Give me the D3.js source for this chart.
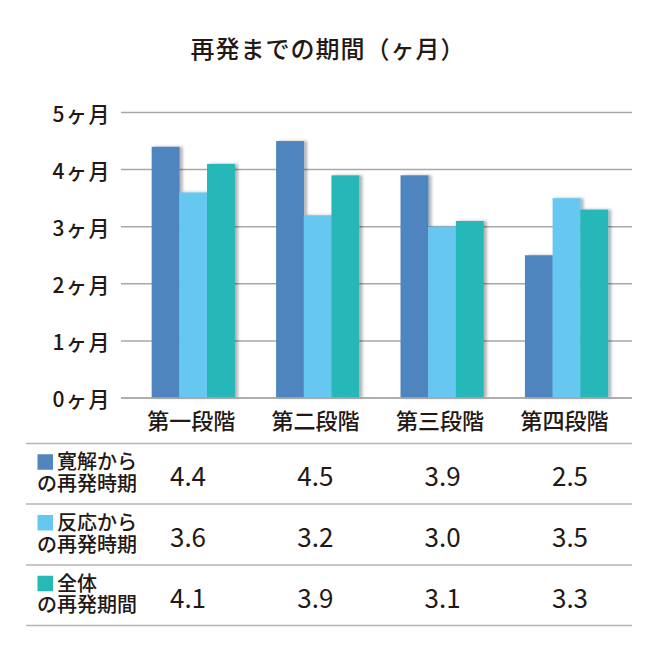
<!DOCTYPE html>
<html><head><meta charset="utf-8">
<script src="https://cdn.jsdelivr.net/npm/d3@7"></script>
<style>
html,body{margin:0;padding:0;background:#fff;}
svg{display:block;}
text{font-family:"Noto Sans CJK JP","Noto Sans",sans-serif;fill:#231815;}
</style></head>
<body><svg id="c" width="660" height="660"></svg>
<script>
const title = "再発までの期間（ヶ月）";
const categories = ["第一段階","第二段階","第三段階","第四段階"];
const seriesNames = [["寛解から","の再発時期"],["反応から","の再発時期"],["全体","の再発期間"]];
const seriesColors = ["#5085be","#66c8f0","#27b8b8"];
const remissionValues = [4.4, 4.5, 3.9, 2.5];
const responseValues = [3.6, 3.2, 3.0, 3.5];
const overallValues = [4.1, 3.9, 3.1, 3.3];
const yTicks = [0,1,2,3,4,5];
const yTickLabels = ["0ヶ月","1ヶ月","2ヶ月","3ヶ月","4ヶ月","5ヶ月"];
const series = [remissionValues, responseValues, overallValues];

const svg = d3.select("#c");
const defs = svg.append("defs");
const f = defs.append("filter").attr("id","sh").attr("x","-20%").attr("y","-20%").attr("width","150%").attr("height","140%");
f.append("feDropShadow").attr("dx",3).attr("dy",0).attr("stdDeviation",1.6).attr("flood-color","#000").attr("flood-opacity",0.3);

svg.append("text").attr("x",328).attr("y",47).attr("text-anchor","middle").attr("dominant-baseline","central")
  .attr("font-size",24).style("font-weight",500).attr("letter-spacing",1).text(title);

const y = d3.scaleLinear().domain([0,5]).range([398,112.5]);
const x = d3.scaleBand().domain(categories).range([121,632]).paddingInner(0.333).paddingOuter(0.22).align(0.56);
const xs = d3.scaleBand().domain(d3.range(series.length)).range([0,x.bandwidth()]);

svg.append("g").selectAll("line").data(yTicks).join("line")
  .attr("x1",121).attr("x2",632).attr("y1",d=>y(d)).attr("y2",d=>y(d))
  .attr("stroke","#a8a8a8").attr("stroke-width",1.5);

svg.append("g").selectAll("text").data(yTicks).join("text")
  .attr("x",111).attr("y",d=>y(d)).attr("text-anchor","end").attr("dominant-baseline","central")
  .attr("font-size",21).style("font-weight",500).attr("letter-spacing",1.5).text((d,i)=>yTickLabels[i]);

const g = svg.append("g");
series.forEach((vals,si)=>{
  g.append("g").selectAll("rect").data(vals).join("rect")
    .attr("x",(d,i)=>x(categories[i])+xs(si)).attr("width",xs.bandwidth()+0.3)
    .attr("y",d=>y(d)).attr("height",d=>y(0)-y(d))
    .attr("fill",seriesColors[si]).attr("filter","url(#sh)");
});
svg.append("line").attr("x1",121).attr("x2",632).attr("y1",y(0)).attr("y2",y(0)).attr("stroke","#a8a8a8").attr("stroke-width",1.5);

svg.append("g").selectAll("text").data(categories).join("text")
  .attr("x",d=>x(d)+x.bandwidth()/2 - 2).attr("y",419).attr("text-anchor","middle").attr("dominant-baseline","central")
  .attr("font-size",22).style("font-weight",500).text(d=>d);

const rowLines = [443.5,504,565,625.5];
svg.append("g").selectAll("line").data(rowLines).join("line")
  .attr("x1",26).attr("x2",632).attr("y1",d=>d).attr("y2",d=>d)
  .attr("stroke","#b5b5b5").attr("stroke-width",1.5);

const tx = d3.scalePoint().domain(categories).range([188,570]);
series.forEach((vals,si)=>{
  const top = rowLines[si], bot = rowLines[si+1], mid=(top+bot)/2;
  svg.append("rect").attr("x",37.5).attr("y",mid-19.5).attr("width",15.5).attr("height",15.5).attr("fill",seriesColors[si]);
  const t = svg.append("text").attr("font-size",20).style("font-weight",500);
  t.append("tspan").attr("x",57).attr("y",mid-4.5).text(seriesNames[si][0]);
  t.append("tspan").attr("x",37).attr("y",mid+17).text(seriesNames[si][1]);
  svg.append("g").selectAll("text").data(vals).join("text")
    .attr("x",(d,i)=>tx(categories[i])).attr("y",mid+1).attr("text-anchor","middle").attr("dominant-baseline","central")
    .attr("font-size",26).style("font-weight",400).text(d=>d.toFixed(1));
});
</script></body></html>
